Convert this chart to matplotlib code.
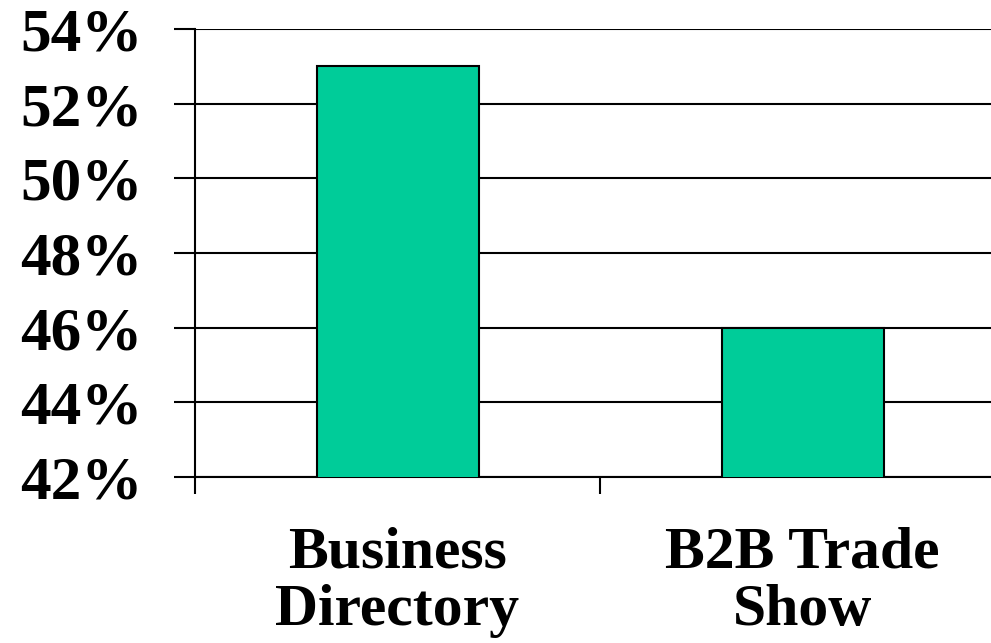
import matplotlib
matplotlib.use("Agg")
import matplotlib.pyplot as plt
from matplotlib.ticker import FuncFormatter

#------data
categories = ["Business\nDirectory", "B2B Trade\nShow"]
values = [53, 46]
y_ticks = [42, 44, 46, 48, 50, 52, 54]

plt.rcParams['font.family'] = ['Liberation Serif', 'DejaVu Serif']
plt.rcParams['font.weight'] = 'bold'

fig = plt.figure(figsize=(9.91, 6.43), dpi=100)
ax = fig.add_axes([195/991, 166/643, 810/991, 448/643])

x = range(len(categories))
ax.bar(x, values, width=0.4, color='#00CC99', edgecolor='black', linewidth=1.5, zorder=3)

ax.set_xlim(-0.5, 1.5)
ax.set_ylim(42, 54)
ax.set_yticks(y_ticks)
ax.yaxis.set_major_formatter(FuncFormatter(lambda v, p: '%d%%' % v))
# category boundaries get the tick marks, labels sit in the middle
ax.set_xticks([-0.5, 0.5, 1.5], minor=False)
ax.set_xticklabels(['', '', ''])
ax.set_xticks(list(x), minor=True)
ax.set_xticklabels(categories, minor=True, fontsize=43, fontweight='bold', linespacing=1.08)

ax.tick_params(axis='x', which='major', direction='out', length=12, width=1.5)
ax.tick_params(axis='x', which='minor', length=0, pad=36)
ax.tick_params(axis='y', direction='out', length=15, width=1.5, labelsize=44, pad=23)
for lab in ax.get_yticklabels():
    lab.set_fontweight('bold')

ax.grid(axis='y', color='black', linewidth=1.5, zorder=0)
ax.spines['top'].set_visible(False)
ax.spines['right'].set_visible(False)
ax.spines['bottom'].set_linewidth(1.5)
ax.spines['left'].set_linewidth(1.5)

fig.savefig('out.png', dpi=100)
